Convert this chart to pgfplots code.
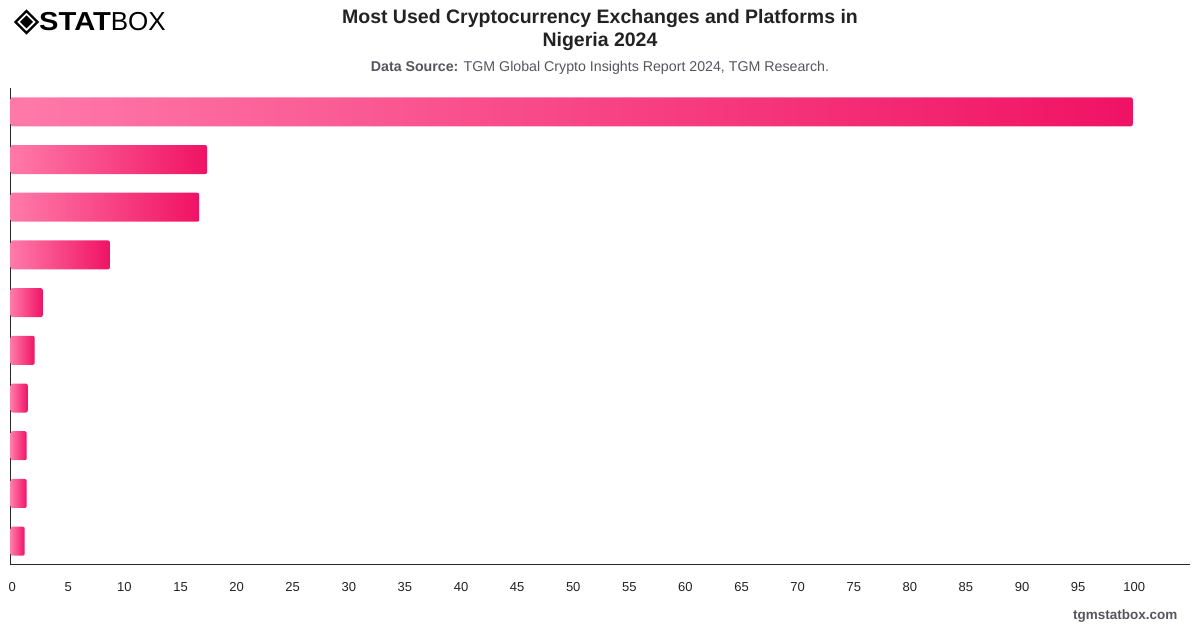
\documentclass[border=0pt]{standalone}
\usepackage{pgfplots}
\pgfplotsset{compat=1.18}
\usepackage{fontspec}
\setmainfont{Liberation Sans}
\definecolor{barL}{RGB}{255,122,168}
\definecolor{barR}{RGB}{240,18,100}
\definecolor{txt}{RGB}{34,34,34}
\definecolor{sub}{RGB}{85,85,95}
\definecolor{axc}{RGB}{40,40,40}
\pgfplotsset{mybar/.style={xbar, bar width=29pt, bar shift=0pt, draw=none, left color=barL, right color=barR, rounded corners=2pt}}
\begin{document}
\begin{tikzpicture}
\path[use as bounding box] (0pt,0pt) rectangle (1200pt,628pt);
% logo
\begin{scope}[shift={(26.5pt,606pt)},x=1pt,y=1pt]
\draw[line width=2.2pt,black] (0,11) -- (11,0) -- (0,-11) -- (-11,0) -- cycle;
\fill[black] (0,6.5) -- (6.5,0) -- (0,-6.5) -- (-6.5,0) -- cycle;
\end{scope}
\node[anchor=west,inner sep=0pt,font=\fontsize{26}{28}\selectfont] at (39pt,606pt) {\scalebox{1.12}[1]{\bfseries STAT}BOX};
% title
\node[font=\fontsize{19.5}{23}\selectfont\bfseries,text=txt,align=center] at (600pt,598pt) {Most Used Cryptocurrency Exchanges and Platforms in\\[0pt]Nigeria 2024};
\node[font=\fontsize{14.2}{17}\selectfont,text=sub] at (600pt,560pt) {\textbf{Data Source:} TGM Global Crypto Insights Report 2024, TGM Research.};
\node[anchor=east,font=\fontsize{13.5}{16}\selectfont\bfseries,text=sub] at (1181pt,12pt) {tgmstatbox.com};
\begin{axis}[
  at={(10.7pt,63pt)}, anchor=south west,
  scale only axis, width=1179.3pt, height=477pt,
  xmin=0, xmax=105.1,
  ymin=0.5, ymax=10.5,
  axis x line*=bottom, axis y line*=left,
  axis line style={axc, line width=1pt, -},
  xtick={0,5,...,100},
  ytick=\empty,
  major tick length=0pt,
  /pgf/number format/assume math mode=true,
  xticklabel style={font=\fontsize{13}{15}\selectfont, text=txt, yshift=-14pt, xshift=1.5pt},
  clip=false,
]
\addplot[mybar] coordinates {(100,10)};
\addplot[mybar] coordinates {(17.5,9)};
\addplot[mybar] coordinates {(16.8,8)};
\addplot[mybar] coordinates {(8.84,7)};
\addplot[mybar] coordinates {(2.86,6)};
\addplot[mybar] coordinates {(2.14,5)};
\addplot[mybar] coordinates {(1.52,4)};
\addplot[mybar] coordinates {(1.43,3)};
\addplot[mybar] coordinates {(1.43,2)};
\addplot[mybar] coordinates {(1.25,1)};
\end{axis}
\end{tikzpicture}
\end{document}
